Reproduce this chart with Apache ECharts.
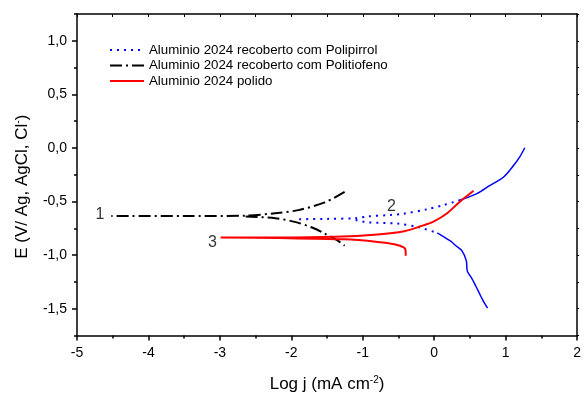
<!DOCTYPE html>
<html><head><meta charset="utf-8">
<script src="https://cdn.jsdelivr.net/npm/echarts@6/dist/echarts.min.js"></script>
<style>html,body{margin:0;padding:0;background:#fff}#c{width:584px;height:398px}</style>
</head><body><div id="c"></div>
<script>
const seriesNames = ['Aluminio 2024 recoberto com Polipirrol', 'Aluminio 2024 recoberto com Politiofeno', 'Aluminio 2024 polido'];

// Polipirrol (blue): cathodic tail, dotted middle (anodic side / cathodic side), anodic tail
const ppyCathLogJ = [0.746, 0.68, 0.621, 0.528, 0.47, 0.458, 0.449, 0.389, 0.30, 0.226, 0.042];
const ppyCathE = [-1.494, -1.42, -1.341, -1.219, -1.16, -1.128, -1.051, -0.960, -0.91, -0.868, -0.792];
const ppyMidUpLogJ = [0.365, 0.135, -0.097, -0.444, -0.61, -0.93, -1.1, -1.5, -1.95];
const ppyMidUpE = [-0.486, -0.532, -0.572, -0.615, -0.625, -0.639, -0.655, -0.662, -0.665];
const ppyMidLowLogJ = [-1.1, -0.93, -0.514, -0.236, 0.042];
const ppyMidLowE = [-0.672, -0.694, -0.706, -0.737, -0.792];
const ppyAnodLogJ = [0.365, 0.597, 0.782, 0.968, 1.107, 1.20, 1.268];
const ppyAnodE = [-0.486, -0.426, -0.349, -0.273, -0.166, -0.08, 0.002];

// Politiofeno (black dash-dot): anodic branch down to the flat part, then cathodic branch
const ptUpLogJ = [-1.254, -1.532, -1.903, -2.226, -2.64, -3.5, -4.52];
const ptUpE = [-0.41, -0.508, -0.58, -0.609, -0.632, -0.635, -0.636];
const ptLowLogJ = [-2.64, -2.226, -1.95, -1.70, -1.532, -1.36, -1.254];
const ptLowE = [-0.64, -0.655, -0.69, -0.745, -0.80, -0.86, -0.912];

// Polido (red)
const polLogJ = [-0.399, -0.40, -0.421, -0.56, -0.792, -1.254, -2.18, -2.99, -2.18, -1.393, -0.792, -0.421, -0.19, -0.004, 0.181, 0.343, 0.551];
const polE = [-1.005, -0.96, -0.929, -0.898, -0.877, -0.853, -0.84, -0.835, -0.836, -0.829, -0.807, -0.777, -0.731, -0.685, -0.609, -0.511, -0.40];

// Curve annotations
const noteLogJ = [-4.68, -0.597, -3.104];
const noteE = [-0.62, -0.548, -0.884];
const noteText = ['1', '2', '3'];

const yMajorTicks = [-1.5, -1.0, -0.5, 0.0, 0.5, 1.0];
const yMinorTicks = [-1.75, -1.25, -0.75, -0.25, 0.25, 0.75, 1.25];

const zip = (a, b) => a.map((v, i) => [v, b[i]]);
const FONT = 'Liberation Sans, Arial, sans-serif';
const fmt = v => v.toFixed(1).replace('.', ',');

const chart = echarts.init(document.getElementById('c'), null, {renderer: 'canvas'});
const blue = '#0000ff';
const lineBase = {type: 'line', showSymbol: false, symbol: 'none', symbolSize: 0, smooth: 0.3, connectNulls: false};
chart.setOption({
  animation: false,
  textStyle: {fontFamily: FONT, color: '#000'},
  grid: {left: 77, right: 3, top: 14, bottom: 56, containLabel: false},
  legend: {
    orient: 'vertical', left: 109, top: 43, padding: 0, itemWidth: 34, itemHeight: 14, itemGap: 1.5,
    data: seriesNames,
    itemStyle: {opacity: 0},
    textStyle: {fontSize: 13.3, fontFamily: FONT, color: '#000', lineHeight: 14}
  },
  xAxis: [{
    type: 'value', min: -5, max: 2, interval: 1, position: 'bottom',
    axisLine: {show: true, onZero: false, lineStyle: {color: '#000', width: 1.5}},
    axisTick: {show: true, inside: false, length: 5, lineStyle: {color: '#000', width: 1.5}},
    minorTick: {show: true, splitNumber: 2, length: 3, lineStyle: {color: '#000', width: 1.5}},
    splitLine: {show: false},
    axisLabel: {fontSize: 14, margin: 11, color: '#000', fontFamily: FONT, formatter: v => String(v)},
    name: 'Log j (mA cm{sup|-2})', nameLocation: 'middle', nameGap: 40,
    nameTextStyle: {fontSize: 17, color: '#000', fontFamily: FONT,
      rich: {sup: {fontSize: 10, verticalAlign: 'top', padding: [0, 0, 8, 0], fontFamily: FONT, color: '#000'}}}
  }, {
    type: 'value', min: -5, max: 2, interval: 1, position: 'top',
    axisLine: {show: true, onZero: false, lineStyle: {color: '#000', width: 1.5}},
    axisTick: {show: true, inside: true, length: 3, lineStyle: {color: '#000', width: 1}},
    minorTick: {show: true, splitNumber: 2, length: 3, lineStyle: {color: '#000', width: 1}},
    splitLine: {show: false}, axisLabel: {show: false}
  }],
  yAxis: [{
    type: 'value', min: -1.75, max: 1.25, position: 'left',
    axisLine: {show: true, onZero: false, lineStyle: {color: '#000', width: 1.5}},
    axisTick: {show: true, inside: false, length: 5, customValues: yMajorTicks, lineStyle: {color: '#000', width: 1.5}},
    splitLine: {show: false},
    axisLabel: {fontSize: 14, margin: 10, color: '#000', fontFamily: FONT, customValues: yMajorTicks, formatter: fmt},
    name: 'E (V/ Ag, AgCl, Cl{sup|-})', nameLocation: 'middle', nameGap: 46,
    nameTextStyle: {fontSize: 17, color: '#000', fontFamily: FONT, padding: [0, 24, 0, 0],
      rich: {sup: {fontSize: 10, verticalAlign: 'top', padding: [0, 0, 8, 0], fontFamily: FONT, color: '#000'}}}
  }, {
    type: 'value', min: -1.75, max: 1.25, position: 'left',
    axisLine: {show: false, onZero: false},
    axisTick: {show: true, inside: false, length: 3, customValues: yMinorTicks, lineStyle: {color: '#000', width: 1.5}},
    splitLine: {show: false}, axisLabel: {show: false}
  }, {
    type: 'value', min: -1.75, max: 1.25, position: 'right',
    axisLine: {show: true, onZero: false, lineStyle: {color: '#000', width: 1.5}},
    axisTick: {show: true, inside: false, length: 2, customValues: yMajorTicks.concat(yMinorTicks), lineStyle: {color: '#000', width: 1}},
    splitLine: {show: false}, axisLabel: {show: false}
  }],
  series: [
    Object.assign({}, lineBase, {name: seriesNames[0],
      data: zip(ppyMidUpLogJ, ppyMidUpE).concat(['-'], zip(ppyMidLowLogJ, ppyMidLowE)),
      lineStyle: {color: blue, width: 2, type: [2, 5], cap: 'butt'}, itemStyle: {color: blue}, z: 3}),
    Object.assign({}, lineBase, {name: seriesNames[1],
      data: zip(ptUpLogJ, ptUpE).concat(['-'], zip(ptLowLogJ, ptLowE)),
      lineStyle: {color: '#000', width: 2, type: [12, 4, 2, 4]}, itemStyle: {color: '#000'}, z: 2}),
    Object.assign({}, lineBase, {name: seriesNames[2], data: zip(polLogJ, polE),
      lineStyle: {color: '#ff0000', width: 2}, itemStyle: {color: '#ff0000'}, z: 4}),
    Object.assign({}, lineBase, {name: seriesNames[0], data: zip(ppyCathLogJ, ppyCathE),
      lineStyle: {color: blue, width: 1.5}, itemStyle: {color: blue}, z: 3}),
    Object.assign({}, lineBase, {name: seriesNames[0], data: zip(ppyAnodLogJ, ppyAnodE),
      lineStyle: {color: blue, width: 1.5}, itemStyle: {color: blue}, z: 3}),
    {name: 'notes', type: 'scatter', symbolSize: 0, silent: true,
      data: noteLogJ.map((v, i) => ({value: [v, noteE[i]], name: noteText[i]})),
      label: {show: true, position: 'inside', formatter: p => p.name, fontSize: 16, color: '#000', fontFamily: FONT}}
  ]
});
</script>
</body></html>
